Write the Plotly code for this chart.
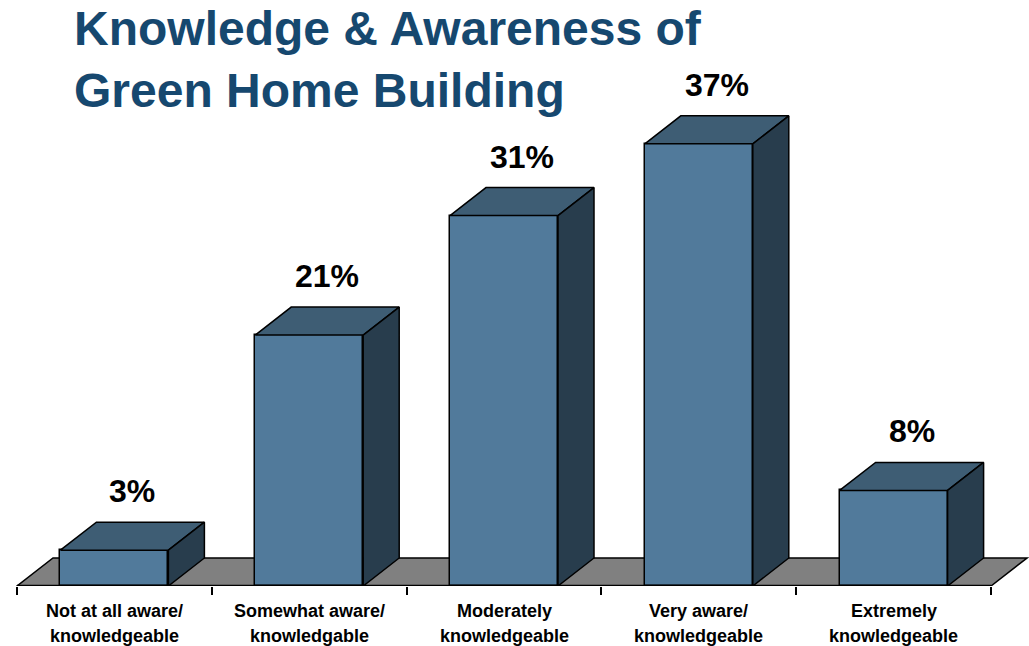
import plotly.graph_objects as go

# Survey results: knowledge & awareness of green home building
categories = [
    "Not at all aware/<br>knowledgeable",
    "Somewhat aware/<br>knowledgable",
    "Moderately<br>knowledgeable",
    "Very aware/<br>knowledgeable",
    "Extremely<br>knowledgeable",
]
shares = [3, 21, 31, 37, 8]

# Pseudo-3D geometry (in axis units)
W, H = 1029, 646
M_L, M_R, M_T, M_B = 12, 0, 0, 60
PX_PER_CAT = 194.8
PX_PER_PCT = 11.95
DX = 36 / PX_PER_CAT          # depth offset, x
DY = 28 / PX_PER_PCT          # depth offset, y
HW = 54 / PX_PER_CAT          # half bar width

FRONT = "#517a9b"
TOP = "#3e5d74"
SIDE = "#283d4d"
FLOOR = "#808080"
EDGE = "#000000"
FONT = "Arial, Liberation Sans, sans-serif"

n = len(shares)
xs = list(range(n))
plot_w = W - M_L - M_R
plot_h = H - M_T - M_B
x0 = -0.5 - (17 - M_L) / PX_PER_CAT
x_range = [x0, x0 + plot_w / PX_PER_CAT]
y_range = [0, plot_h / PX_PER_PCT]

fig = go.Figure()

# front faces
fig.add_trace(go.Bar(
    x=xs, y=shares, width=2 * HW,
    marker=dict(color=FRONT, line=dict(color=EDGE, width=1.5)),
    hoverinfo="skip", showlegend=False,
))

# top and side faces
for x, v in zip(xs, shares):
    xl, xr = x - HW, x + HW
    fig.add_trace(go.Scatter(
        x=[xl, xr, xr + DX, xl + DX, xl],
        y=[v, v, v + DY, v + DY, v],
        mode="lines", fill="toself", fillcolor=TOP,
        line=dict(color=EDGE, width=1.5), hoverinfo="skip", showlegend=False,
    ))
    fig.add_trace(go.Scatter(
        x=[xr, xr + DX, xr + DX, xr, xr],
        y=[0, DY, v + DY, v, 0],
        mode="lines", fill="toself", fillcolor=SIDE,
        line=dict(color=EDGE, width=1.5), hoverinfo="skip", showlegend=False,
    ))

# floor under the bars
lo, hi = -0.5, n - 0.5
fig.add_shape(
    type="path", xref="x", yref="y", layer="below",
    path=f"M {lo},0 L {hi},0 L {hi + DX},{DY} L {lo + DX},{DY} Z",
    fillcolor=FLOOR, line=dict(color=EDGE, width=1.5),
)
fig.add_shape(
    type="line", xref="x", yref="y", x0=lo, x1=hi, y0=0, y1=0,
    line=dict(color=EDGE, width=2.5),
)

# value labels
for x, v in zip(xs, shares):
    fig.add_annotation(
        x=x + DX / 2, y=v + DY, xref="x", yref="y",
        text=f"<b>{v}%</b>", showarrow=False,
        yanchor="bottom", yshift=11,
        font=dict(family=FONT, size=32, color="#000000"),
    )

# category labels, one annotation per line
for x, cat in zip(xs, categories):
    for k, line in enumerate(cat.split("<br>")):
        fig.add_annotation(
            x=x, y=0, xref="x", yref="paper",
            text=f"<b>{line}</b>", showarrow=False,
            yanchor="middle", yshift=-25 - 25 * k,
            font=dict(family=FONT, size=18, color="#000000"),
        )

# chart title
fig.add_annotation(
    text="<b>Knowledge & Awareness of<br>Green Home Building</b>",
    xref="paper", yref="paper",
    x=(73 - M_L) / plot_w, xanchor="left", align="left",
    y=1 - 1 / plot_h, yanchor="top",
    showarrow=False, borderpad=0,
    font=dict(family=FONT, size=48, color="#16486f"),
)

fig.update_layout(
    width=W, height=H,
    margin=dict(l=M_L, r=M_R, t=M_T, b=M_B, pad=0),
    paper_bgcolor="white", plot_bgcolor="white",
    xaxis=dict(
        range=x_range, showgrid=False, zeroline=False, showline=False,
        tickmode="array", tickvals=[i - 0.5 for i in range(n + 1)],
        ticks="outside", ticklen=8, tickwidth=2, tickcolor=EDGE,
        showticklabels=False, fixedrange=True,
    ),
    yaxis=dict(
        range=y_range, visible=False, fixedrange=True,
    ),
    bargap=0,
)

fig.write_html("out.html")
